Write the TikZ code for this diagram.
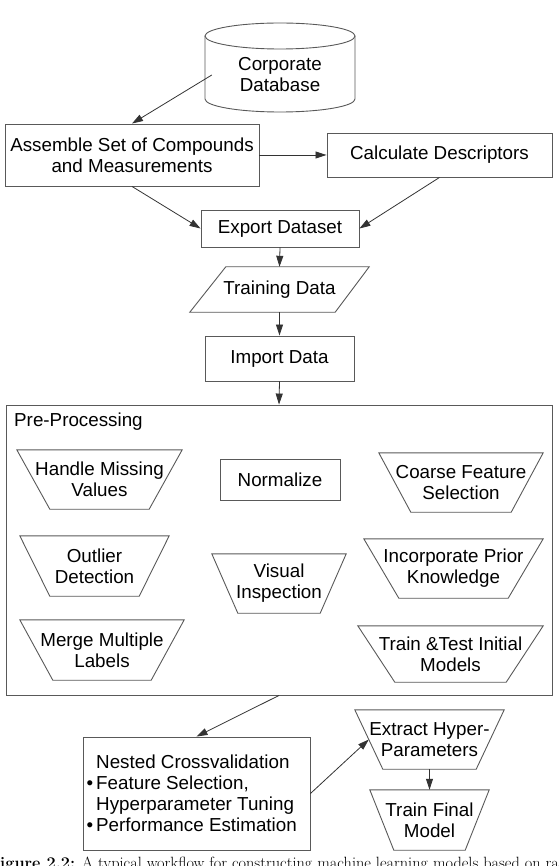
\documentclass[tikz,border=0pt]{standalone}
\usepackage{fontspec}
\newfontfamily\flowfont{Liberation Sans}
\usetikzlibrary{arrows.meta}

\begin{document}
\begin{tikzpicture}[x=1pt, y=-1pt,
    every node/.style={font={\flowfont\fontsize{18.8}{21}\selectfont}, align=center, inner sep=0pt},
    block/.style={draw=black!65, line width=0.9pt},
    outline/.style={draw=black!65, line width=0.9pt},
    flow/.style={draw=black!80, line width=0.8pt, -{Triangle[length=11pt,width=7pt]}}]
    % Fix the page size
    \useasboundingbox (0,0) rectangle (558,866);

    % Draw the database cylinder
    \draw[outline] (280,36) ellipse [x radius=75pt, y radius=13pt];
    \draw[outline] (205,36) -- (205,99) arc [start angle=180, end angle=360, x radius=75pt, y radius=13pt] -- (355,36);
    \node[minimum width=136pt] (db) at (280,75) {Corporate\\Database};

    % Upper workflow steps
    \node[block, minimum width=254pt, minimum height=62pt] (assemble) at (132,155) {Assemble Set of Compounds\\and Measurements};
    \node[block, minimum width=225pt, minimum height=44pt] (calc) at (439.5,155) {Calculate Descriptors};
    \node[block, minimum width=158pt, minimum height=37pt] (export) at (280,228.5) {Export Dataset};
    \node[minimum width=179pt, minimum height=45pt] (train) at (279.5,289.5) {Training Data};
    \node[block, minimum width=149pt, minimum height=45pt] (import) at (279.5,358.5) {Import Data};

    % Training data parallelogram
    \draw[outline] ([xshift=36]train.north west) -- (train.north east) -- ([xshift=-34]train.south east) -- (train.south west) -- cycle;

    % Pre-processing frame and its steps
    \node[block, minimum width=546pt, minimum height=290pt] (prep) at (279,550) {};
    \node[anchor=base west] (preptitle) at (14,426) {Pre-Processing};
    \node[minimum width=165pt, minimum height=59pt] (missing) at (99.5,479.5) {Handle Missing\\Values};
    \node[minimum width=149pt, minimum height=60pt] (outlier) at (94.5,566) {Outlier\\Detection};
    \node[minimum width=164pt, minimum height=60pt] (merge) at (102,650) {Merge Multiple\\Labels};
    \node[block, minimum width=120pt, minimum height=41pt] (normalize) at (280,479.5) {Normalize};
    \node[minimum width=134pt, minimum height=59pt] (visual) at (279,583.5) {Visual\\Inspection};
    \node[minimum width=164pt, minimum height=59pt] (coarse) at (461,482.5) {Coarse Feature\\Selection};
    \node[minimum width=179pt, minimum height=59pt] (prior) at (453.5,568.5) {Incorporate Prior\\Knowledge};
    \node[minimum width=185pt, minimum height=56pt] (initial) at (450.5,654) {Train \&Test Initial\\Models};

    % Model building
    \node[block, minimum width=227pt, minimum height=113pt, align=left] (nested) at (196.5,793.5) {Nested Crossvalidation\\\llap{•\hspace{3pt}}Feature Selection,\\Hyperparameter Tuning\\\llap{•\hspace{3pt}}Performance Estimation};
    \node[minimum width=149pt, minimum height=59pt] (hyper) at (429.5,739.5) {Extract Hyper-\\Parameters};
    \node[minimum width=119pt, minimum height=60pt] (final) at (429.5,820) {Train Final\\Model};

    % Trapezium outlines
    \foreach \n/\s in {missing/33, outlier/30, merge/33, visual/26, coarse/32, prior/35, initial/37, hyper/28, final/24}
        \draw[outline] (\n.north west) -- (\n.north east) -- ([xshift=-\s]\n.south east) -- ([xshift=\s]\n.south west) -- cycle;

    % Arrows
    \draw[flow] (db.west) -- (assemble.north);
    \draw[flow] (assemble.east) -- (calc.west);
    \draw[flow] (assemble.south) -- (export.west);
    \draw[flow] (calc.south) -- (export.east);
    \draw[flow] (export.south) -- (train.north);
    \draw[flow] (train.south) -- (import.north);
    \draw[flow] (import.south) -- (prep.north);
    \draw[flow] (prep.south) -- (nested.north);
    \draw[flow] (nested.east) -- ([xshift=14]hyper.west);
    \draw[flow] (hyper.south) -- (final.north);

    % Caption (cut by the page edge)
    \node[anchor=base west, font={\rmfamily\fontsize{16.3}{19}\selectfont}] (caption) at (-11.5,868.5) {\textbf{Figure 2.2:} A typical workflow for constructing machine learning models based on ra};
\end{tikzpicture}
\end{document}
